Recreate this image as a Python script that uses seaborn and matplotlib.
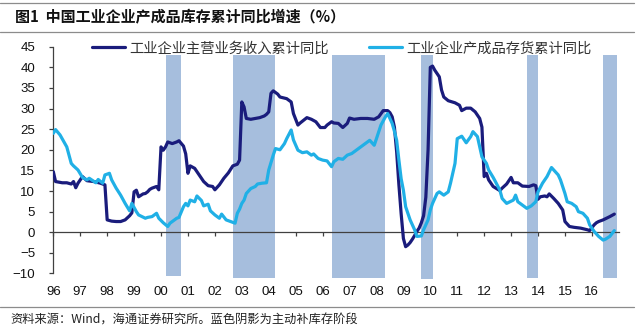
import matplotlib
matplotlib.use("Agg")
import matplotlib.pyplot as plt
from matplotlib.lines import Line2D
from matplotlib.font_manager import FontProperties
import pandas as pd
import seaborn as sns

# ---- data: cumulative YoY growth (%) ----
rev_label = "工业企业主营业务收入累计同比"
rev_months = [
    "1996-01", "1996-02", "1996-05", "1996-07", "1996-09", "1996-10", "1996-11", "1996-12",
    "1997-02", "1997-04", "1997-07", "1997-10", "1997-12",
    "1998-01", "1998-03", "1998-05", "1998-07", "1998-09", "1998-11", "1998-12",
    "1999-01", "1999-02", "1999-03", "1999-05", "1999-06", "1999-07", "1999-08", "1999-09", "1999-11", "1999-12",
    "2000-01", "2000-02", "2000-03", "2000-04", "2000-06", "2000-08", "2000-09", "2000-11", "2000-12",
    "2001-01", "2001-02", "2001-04", "2001-06", "2001-08", "2001-10", "2001-12",
    "2002-01", "2002-03", "2002-05", "2002-07", "2002-09", "2002-11", "2002-12",
    "2003-01", "2003-02", "2003-03", "2003-05", "2003-07", "2003-09", "2003-11", "2003-12",
    "2004-01", "2004-02", "2004-03", "2004-05", "2004-06", "2004-09", "2004-11", "2004-12",
    "2005-02", "2005-03", "2005-06", "2005-08", "2005-10", "2005-12",
    "2006-02", "2006-03", "2006-05", "2006-06", "2006-08", "2006-10", "2006-12",
    "2007-01", "2007-03", "2007-06", "2007-09", "2007-12",
    "2008-02", "2008-04", "2008-06", "2008-07", "2008-08", "2008-09", "2008-10", "2008-11", "2008-12",
    "2009-01", "2009-02", "2009-03", "2009-04", "2009-05", "2009-06", "2009-07", "2009-08", "2009-09",
    "2009-10", "2009-11", "2009-12",
    "2010-01", "2010-02", "2010-03", "2010-05", "2010-06", "2010-07", "2010-09", "2010-12",
    "2011-02", "2011-03", "2011-05", "2011-07", "2011-09", "2011-11", "2011-12",
    "2012-01", "2012-02", "2012-03", "2012-05", "2012-08", "2012-09", "2012-11",
    "2013-01", "2013-02", "2013-04", "2013-06", "2013-09", "2013-11", "2013-12",
    "2014-01", "2014-02", "2014-04", "2014-05", "2014-06", "2014-08", "2014-10", "2014-12",
    "2015-01", "2015-03", "2015-05", "2015-08", "2015-11", "2015-12",
    "2016-02", "2016-03", "2016-04", "2016-06", "2016-09", "2016-11",
]
rev_values = [
    14.7, 12.3, 12.0, 12.0, 11.7, 12.3, 10.8, 11.9,
    13.5, 12.5, 12.3, 11.9, 11.5,
    3.0, 2.7, 2.6, 2.6, 3.0, 4.0, 4.7,
    9.8, 10.2, 8.6, 9.3, 9.4, 9.8, 10.4, 10.7, 11.1, 10.3,
    20.7, 19.9, 20.7, 21.9, 21.5, 21.9, 22.2, 20.9, 19.0,
    14.3, 16.1, 15.5, 13.9, 12.3, 11.3, 11.1,
    10.3, 11.5, 13.1, 14.4, 16.1, 16.5, 17.5,
    31.6, 30.4, 27.6, 27.4, 27.6, 27.8, 28.2, 28.6,
    29.2, 33.7, 34.3, 33.5, 32.8, 32.4, 31.6, 28.8,
    26.0, 26.5, 27.8, 27.4, 26.8, 25.4,
    25.4, 26.0, 26.8, 26.5, 26.4, 25.4, 26.4,
    27.7, 27.4, 27.6, 27.6, 27.4,
    28.0, 29.5, 29.5, 29.0, 28.0, 25.5, 19.5, 11.5, 4.5,
    -1.5, -3.5, -3.1, -2.5, -1.7, -0.8, 0.2, 1.0, 2.3,
    4.0, 8.5, 20.0,
    40.0, 40.3, 39.3, 37.7, 34.5, 32.8, 31.9, 31.4,
    30.8, 29.5, 30.1, 30.1, 29.2, 27.6, 25.5,
    13.5, 14.3, 12.7, 11.1, 10.1, 10.7, 11.7,
    13.3, 12.0, 12.0, 11.2, 11.1, 11.5, 11.3,
    8.0, 8.6, 8.8, 8.6, 9.3, 8.2, 7.0, 5.4,
    2.6, 1.4, 1.2, 1.0, 0.6, 0.4,
    1.8, 2.3, 2.6, 3.0, 3.8, 4.4,
]

inv_label = "工业企业产成品存货累计同比"
inv_months = [
    "1996-01", "1996-02", "1996-04", "1996-07", "1996-09", "1996-10", "1996-12",
    "1997-02", "1997-04", "1997-05", "1997-08", "1997-09", "1997-11", "1997-12",
    "1998-02", "1998-03", "1998-05", "1998-07", "1998-09", "1998-11", "1998-12",
    "1999-02", "1999-03", "1999-06", "1999-07", "1999-09", "1999-11", "1999-12",
    "2000-02", "2000-04", "2000-05", "2000-08", "2000-09", "2000-11", "2000-12",
    "2001-01", "2001-02", "2001-04", "2001-05", "2001-07", "2001-08", "2001-10", "2001-11",
    "2002-01", "2002-03", "2002-04", "2002-06", "2002-08", "2002-10", "2002-11", "2002-12",
    "2003-01", "2003-02", "2003-03", "2003-05", "2003-07", "2003-08", "2003-10", "2003-12",
    "2004-01", "2004-03", "2004-04", "2004-06", "2004-08", "2004-09", "2004-11", "2004-12",
    "2005-02", "2005-04", "2005-06", "2005-08", "2005-09", "2005-11",
    "2006-01", "2006-03", "2006-05", "2006-06", "2006-08", "2006-10", "2006-12",
    "2007-02", "2007-05", "2007-06", "2007-09", "2007-10", "2007-12",
    "2008-01", "2008-03", "2008-05", "2008-06", "2008-08", "2008-09", "2008-10", "2008-11", "2008-12",
    "2009-01", "2009-02", "2009-04", "2009-06", "2009-07", "2009-09", "2009-10", "2009-12",
    "2010-01", "2010-02", "2010-04", "2010-05", "2010-07", "2010-09", "2010-10", "2010-12",
    "2011-01", "2011-03", "2011-04", "2011-05", "2011-07", "2011-08", "2011-10", "2011-11", "2011-12",
    "2012-02", "2012-03", "2012-05", "2012-06", "2012-08", "2012-09", "2012-11",
    "2013-02", "2013-03", "2013-04", "2013-06", "2013-08", "2013-10", "2013-12",
    "2014-01", "2014-03", "2014-04", "2014-05", "2014-07", "2014-08", "2014-10", "2014-11",
    "2015-01", "2015-02", "2015-04", "2015-06", "2015-07", "2015-09", "2015-11", "2015-12",
    "2016-02", "2016-04", "2016-06", "2016-07", "2016-09", "2016-11",
]
inv_values = [
    24.0, 24.9, 23.6, 20.7, 16.7, 16.1, 15.1,
    13.3, 12.7, 13.1, 12.0, 12.8, 11.9, 13.9,
    14.3, 12.7, 10.7, 9.0, 7.0, 5.2, 7.0,
    5.0, 4.2, 3.4, 3.6, 3.8, 4.6, 3.4,
    2.3, 1.4, 2.2, 3.4, 3.6, 6.2, 7.0,
    6.4, 7.8, 7.4, 8.8, 7.7, 6.4, 6.8, 5.2,
    4.2, 3.4, 4.4, 3.0, 2.6, 2.2, 4.6, 5.6,
    7.0, 7.8, 9.4, 10.6, 11.1, 11.7, 11.9, 12.0,
    15.1, 18.7, 20.3, 20.0, 21.5, 22.7, 24.8, 22.4,
    19.9, 19.3, 19.5, 18.7, 19.0, 17.9,
    17.5, 17.3, 15.9, 17.1, 17.9, 17.7, 18.7,
    19.1, 20.3, 20.7, 21.9, 22.3, 21.1,
    22.7, 26.0, 28.0, 28.8, 26.4, 24.5, 22.3, 17.5, 13.0,
    10.2, 6.2, 3.0, 0.6, -1.0, -0.9, 0.6, 3.0,
    5.4, 7.0, 9.4, 9.8, 9.0, 9.8, 11.9, 16.7,
    22.7, 23.3, 22.5, 21.7, 23.2, 24.4, 23.2, 20.7, 18.3,
    16.7, 15.1, 13.3, 12.3, 10.2, 8.2, 7.0,
    7.8, 9.0, 7.4, 6.6, 5.8, 6.4, 7.4,
    9.8, 11.9, 12.7, 13.5, 15.7, 15.1, 13.9, 12.7,
    9.4, 7.4, 7.0, 6.2, 5.0, 4.6, 3.4, 1.8,
    0.2, -1.0, -1.9, -1.7, -1.0, 0.4,
]

# active restocking phases (first and last month of each phase)
phase_start = ["2000-03", "2002-09", "2006-05", "2009-09", "2013-08", "2016-06"]
phase_end = ["2000-09", "2004-03", "2008-04", "2010-01", "2013-12", "2016-11"]
phase_low = [-10.6, -11.2, -11.2, -11.4, -11.2, -11.2]
phase_high = [43.0, 43.0, 43.0, 43.0, 43.0, 43.0]

year_ticks = list(range(1996, 2017))
year_labels = [f"{y % 100:02d}" for y in year_ticks]

title_text = "图1  中国工业企业产成品库存累计同比增速（%）"
source_text = "资料来源：Wind，海通证券研究所。蓝色阴影为主动补库存阶段"

NAVY = "#1a1c7c"
SKY = "#20b0e6"
SHADE = "#a6bedd"
RULE = "#8c8c8c"


def decimal_year(month):
    y, m = month.split("-")
    return int(y) + (int(m) - 1) / 12.0


rev_df = pd.DataFrame({"year": [decimal_year(m) for m in rev_months], "value": rev_values})
inv_df = pd.DataFrame({"year": [decimal_year(m) for m in inv_months], "value": inv_values})

sns.set_theme(style="white")
plt.rcParams["font.family"] = ["Liberation Sans", "Noto Sans CJK SC"]
cjk = "Noto Sans CJK SC"

fig = plt.figure(figsize=(6.4, 3.33), dpi=100)
ax = fig.add_axes([0.0833, 0.1589, 0.8836, 0.7033])

# shaded phases as columns spanning each period
for s, e, lo, hi in zip(phase_start, phase_end, phase_low, phase_high):
    x0 = decimal_year(s)
    x1 = decimal_year(e) + 1 / 12.0
    ax.bar(x0, hi - lo, width=x1 - x0, bottom=lo, align="edge",
           color=SHADE, linewidth=0, zorder=1)

sns.lineplot(data=rev_df, x="year", y="value", ax=ax, color=NAVY, linewidth=2.3,
             label=rev_label, zorder=3, sort=True)
sns.lineplot(data=inv_df, x="year", y="value", ax=ax, color=SKY, linewidth=2.3,
             label=inv_label, zorder=4, sort=True)

ax.set_xlim(1996, 2017)
ax.set_ylim(-11.6, 45.2)
ax.set_xlabel("")
ax.set_ylabel("")

for side in ("top", "right"):
    ax.spines[side].set_visible(False)
ax.spines["left"].set_bounds(-10, 45)
ax.spines["bottom"].set_position(("data", 0))
for side in ("left", "bottom"):
    ax.spines[side].set_color("#404040")
    ax.spines[side].set_linewidth(0.9)
    ax.spines[side].set_zorder(2.5)

ax.set_yticks(range(-10, 50, 5))
ax.tick_params(axis="y", direction="out", length=3, width=0.9, color="#404040",
               pad=10, labelsize=9.5, labelcolor="#111111", left=True)
ax.set_xticks(year_ticks)
ax.tick_params(axis="x", direction="out", length=3, width=0.9, color="#404040",
               labelbottom=False, bottom=True)

sec = ax.secondary_xaxis("bottom")
sec.set_xticks(year_ticks, labels=year_labels)
sec.spines["bottom"].set_visible(False)
sec.tick_params(axis="x", length=0, pad=4, labelsize=9.5, labelcolor="#111111")

leg = ax.legend(loc="center left", bbox_to_anchor=(91.7 / 640, 1 - 48.3 / 333),
                bbox_transform=fig.transFigure, ncol=2, frameon=False,
                prop=FontProperties(family=cjk, size=10.3), handlelength=2.3,
                handletextpad=0.3, columnspacing=2.85, borderpad=0, borderaxespad=0)
for t in leg.get_texts():
    t.set_color("#333333")

# header and footer
fig.text(15 / 640, 1 - 17.5 / 333, title_text, fontsize=10.8, fontweight="bold",
         family=[cjk], va="center", ha="left", color="#111111")
fig.text(10 / 640, 1 - 320 / 333, source_text, fontsize=8.8, family=[cjk],
         va="center", ha="left", color="#222222")
for yy in (2.5, 31.7, 306.5):
    fig.add_artist(Line2D([0.0, 0.99], [1 - yy / 333, 1 - yy / 333],
                          transform=fig.transFigure, color=RULE, linewidth=0.9))

fig.savefig("out.png", dpi=100)
